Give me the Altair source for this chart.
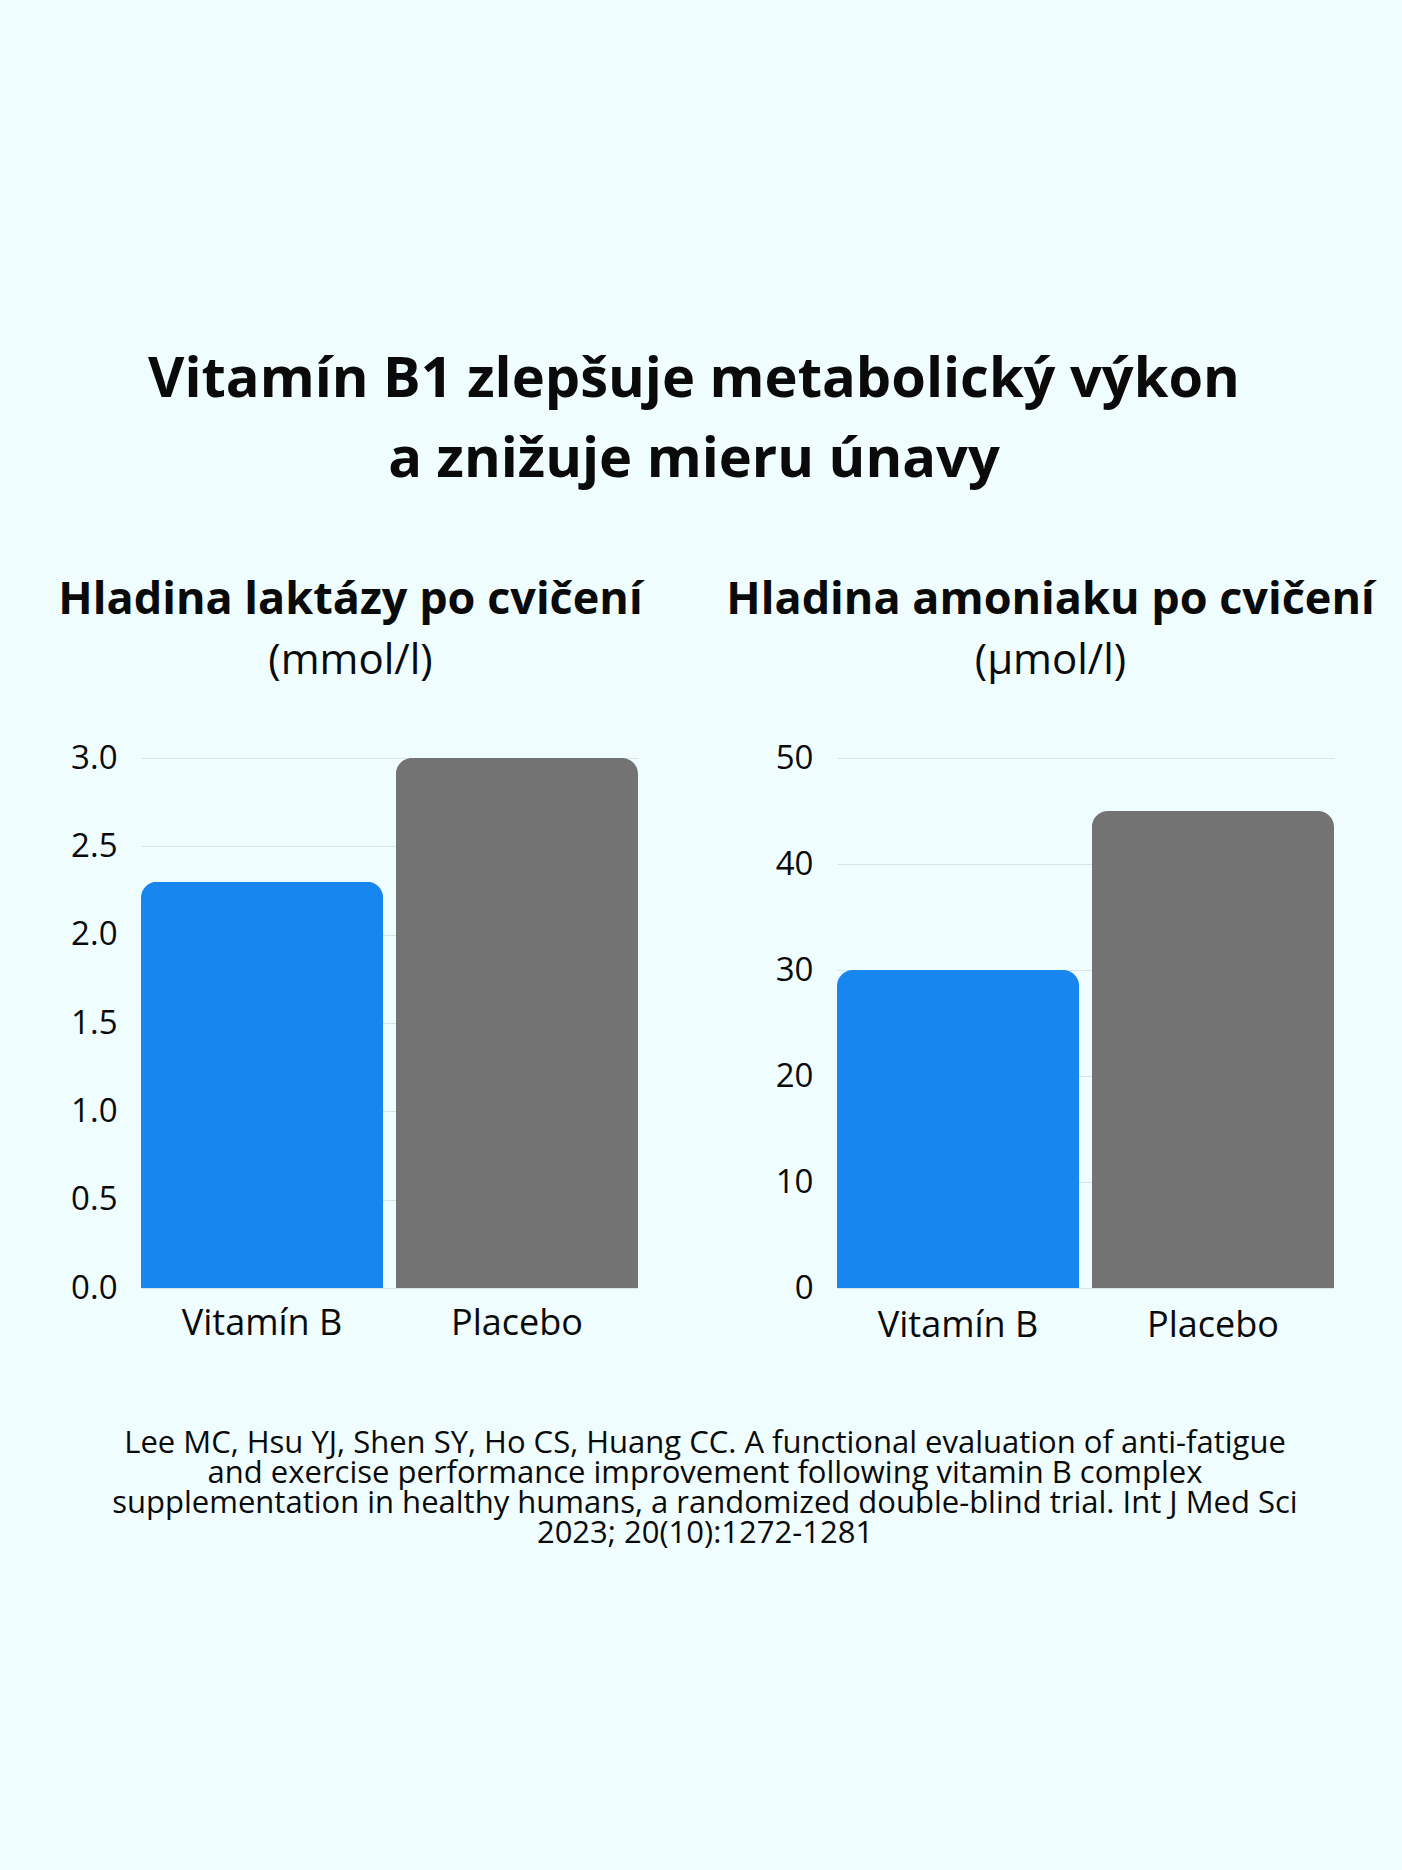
import altair as alt
import pandas as pd

groups = ["Vitamín B", "Placebo"]
lactate = [2.3, 3.0]
ammonia = [30, 45]
lactate_ticks = [0, 0.5, 1.0, 1.5, 2.0, 2.5, 3.0]
ammonia_ticks = [0, 10, 20, 30, 40, 50]
bar_colors = ["#1787ef", "#737373"]

main_title = ["Vitamín B1 zlepšuje metabolický výkon", "a znižuje mieru únavy"]
left_title = "Hladina laktázy po cvičení"
left_unit = "(mmol/l)"
right_title = "Hladina amoniaku po cvičení"
right_unit = "(μmol/l)"
citation = [
    "Lee MC, Hsu YJ, Shen SY, Ho CS, Huang CC. A functional evaluation of anti-fatigue",
    "and exercise performance improvement following vitamin B complex",
    "supplementation in healthy humans, a randomized double-blind trial. Int J Med Sci",
    "2023; 20(10):1272-1281",
]

FONT = "Open Sans"
INK = "#0a0a0a"
BG = "#effdfe"


def panel(values, ticks, fmt, title, unit, domain, title_dx, label_pad):
    df = pd.DataFrame({"group": groups, "value": values})
    return (
        alt.Chart(df)
        .mark_bar(cornerRadiusTopLeft=16, cornerRadiusTopRight=16)
        .encode(
            x=alt.X(
                "group:N",
                sort=groups,
                scale=alt.Scale(paddingInner=0.05, paddingOuter=0),
                axis=alt.Axis(
                    title=None, labelAngle=0, domain=False, ticks=False, grid=False,
                    labelFontSize=36, labelPadding=label_pad, labelColor=INK, labelFont=FONT,
                ),
            ),
            y=alt.Y(
                "value:Q",
                scale=alt.Scale(domain=domain, nice=False),
                axis=alt.Axis(
                    title=None, values=ticks, format=fmt, domain=False, ticks=False,
                    grid=True, gridColor="#d6e6ea", gridWidth=1,
                    labelFontSize=33, labelPadding=24, labelColor=INK, labelFont=FONT,
                ),
            ),
            color=alt.Color("group:N", scale=alt.Scale(domain=groups, range=bar_colors), legend=None),
        )
        .properties(
            width=497,
            height=530,
            title=alt.TitleParams(
                text=title, subtitle=unit, anchor="middle", dx=title_dx, font=FONT, fontSize=45,
                fontWeight="bold", color=INK, subtitleFont=FONT, subtitleFontSize=42,
                subtitleColor=INK, subtitleFontWeight="normal", subtitlePadding=18, offset=60,
            ),
        )
    )


left = panel(lactate, lactate_ticks, ".1f", left_title, left_unit, [0, 3], -39, 18)
right = panel(ammonia, ammonia_ticks, "d", right_title, right_unit, [0, 50], -35, 20)

inner = alt.hconcat(
    left, right, spacing=199, bounds="flush",
    title=alt.TitleParams(
        text=citation, orient="bottom", anchor="middle", frame="group", dx=564,
        font=FONT, fontSize=31, fontWeight="normal", color=INK, lineHeight=30, offset=86,
    ),
)

chart = alt.vconcat(
    inner,
    title=alt.TitleParams(
        text=main_title, anchor="middle", frame="group", dx=553, font=FONT, fontSize=56,
        fontWeight="bold", color=INK, lineHeight=80, offset=89,
    ),
).properties(
    autosize=alt.AutoSizeParams(type="none"),
    padding={"left": 141, "top": 758, "right": 1261, "bottom": 1112},
    background=BG,
).configure_view(stroke=None)

chart.save("out.html", embed_options={"renderer": "svg", "actions": False})
